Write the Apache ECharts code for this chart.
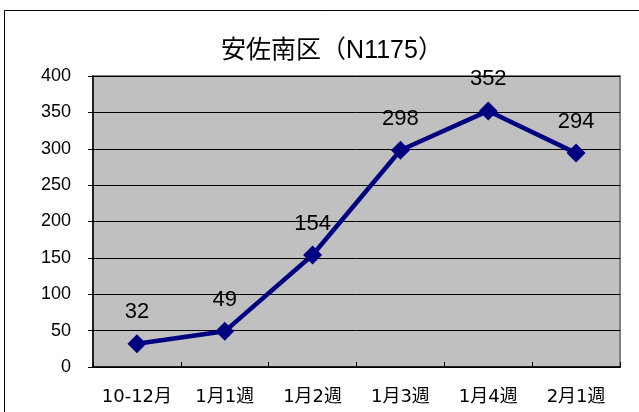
<!DOCTYPE html>
<html><head><meta charset="utf-8">
<script src="https://cdn.jsdelivr.net/npm/echarts@6/dist/echarts.min.js"></script>
<style>html,body{margin:0;padding:0;background:#fff}#c{width:639px;height:412px}</style>
</head><body><div id="c"></div>
<script>
const categories = ['10-12月','1月1週','1月2週','1月3週','1月4週','2月1週'];
const values = [32,49,154,298,352,294];
const yTicks = [0,50,100,150,200,250,300,350,400];
const titleText = '安佐南区（N1175）';
const latin = "'Liberation Sans', 'Noto Sans CJK JP', sans-serif";
const xfont = "'DejaVu Sans', 'Noto Sans CJK JP', sans-serif";
const chart = echarts.init(document.getElementById('c'));
chart.setOption({
  animation:false,
  backgroundColor:'#fff',
  title:{text:titleText,left:327,textAlign:'center',top:34,textStyle:{fontFamily:latin,fontSize:25,fontWeight:'normal',color:'#000'}},
  graphic:[
    {type:'rect',shape:{x:4.5,y:10.5,width:700,height:500},style:{fill:'none',stroke:'#000',lineWidth:1},z:-1},
    {type:'rect',shape:{x:93,y:76,width:527,height:291},style:{fill:'#c0c0c0',stroke:'#808080',lineWidth:2},z:-1}
  ],
  grid:{left:93,right:19,top:76,bottom:45},
  xAxis:{type:'category',data:categories,boundaryGap:true,
    axisLine:{lineStyle:{color:'#000',width:1.5}},
    axisTick:{show:true,inside:true,length:5,interval:0,lineStyle:{color:'#000'}},
    axisLabel:{fontFamily:xfont,fontSize:18,color:'#000',margin:21,interval:0,hideOverlap:false}},
  yAxis:{type:'value',min:yTicks[0],max:yTicks[yTicks.length-1],interval:yTicks[1]-yTicks[0],
    axisLine:{show:true,lineStyle:{color:'#000',width:1.5}},
    axisTick:{show:true,length:5,lineStyle:{color:'#000'}},
    splitLine:{lineStyle:{color:'#000',width:1}},
    axisLabel:{fontFamily:latin,fontSize:18,color:'#000',margin:22}},
  series:[{type:'line',data:values,symbol:'diamond',symbolSize:19,
    lineStyle:{color:'#000080',width:4.5},itemStyle:{color:'#000080'},
    label:{show:true,position:'top',distance:11,fontFamily:latin,fontSize:22,color:'#000'}}]
});
</script></body></html>
